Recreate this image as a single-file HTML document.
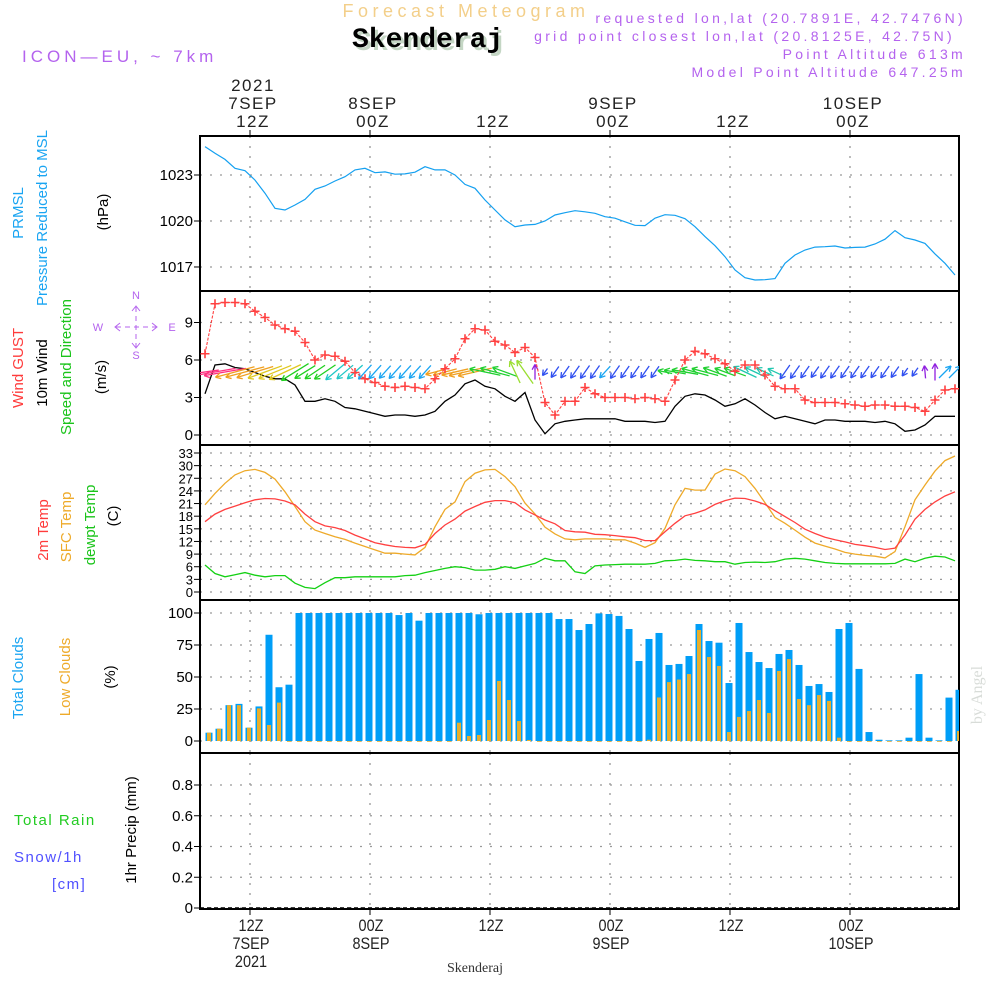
<!DOCTYPE html>
<html><head><meta charset="utf-8"><style>
html,body{margin:0;padding:0;background:#fff;}
svg{display:block;font-family:"Liberation Sans",sans-serif;}
</style></head><body>
<svg id="chart" width="1000" height="1000" viewBox="0 0 1000 1000" xmlns="http://www.w3.org/2000/svg">
<defs>
<clipPath id="c1"><rect x="200" y="136" width="759" height="155"/></clipPath>
<clipPath id="c2"><rect x="200" y="291" width="759" height="154"/></clipPath>
<clipPath id="c3"><rect x="200" y="445" width="759" height="155"/></clipPath>
<clipPath id="c4"><rect x="200" y="600" width="759" height="153"/></clipPath>
</defs>
<g>
<text x="466" y="17" text-anchor="middle" font-size="18" fill="#f3cf8a" letter-spacing="4.5">Forecast Meteogram</text>
<text x="355" y="50" font-family="Liberation Mono,monospace" font-weight="bold" font-size="28" fill="#c4d6c4">Skenderaj</text>
<text x="352" y="47" font-family="Liberation Mono,monospace" font-weight="bold" font-size="28" fill="#000">Skenderaj</text>
<text x="22" y="62" font-size="17" fill="#b463ee" letter-spacing="4">ICON—EU, ~ 7km</text>
<g font-size="14" fill="#b463ee" text-anchor="end" letter-spacing="3.3">
<text x="966" y="23">requested lon,lat (20.7891E, 42.7476N)</text>
<text x="955" y="41">grid point closest lon,lat (20.8125E, 42.75N)</text>
<text x="966" y="59">Point Altitude 613m</text>
<text x="966" y="77">Model Point Altitude 647.25m</text>
</g>
</g>
<g id="axes"></g>
<g id="marks"></g>
<g font-size="15">
<text transform="translate(23,213) rotate(-90)" text-anchor="middle" fill="#1aa5f2">PRMSL</text>
<text transform="translate(47,218) rotate(-90)" text-anchor="middle" fill="#1aa5f2">Pressure Reduced to MSL</text>
<text transform="translate(108,212) rotate(-90)" text-anchor="middle" fill="#000">(hPa)</text>
<text transform="translate(23,368) rotate(-90)" text-anchor="middle" fill="#ff3b3b">Wind GUST</text>
<text transform="translate(47,373) rotate(-90)" text-anchor="middle" fill="#000">10m Wind</text>
<text transform="translate(71,367) rotate(-90)" text-anchor="middle" fill="#1bc41b">Speed and Direction</text>
<text transform="translate(106,377) rotate(-90)" text-anchor="middle" fill="#000">(m/s)</text>
<g fill="none" stroke="#b463ee" stroke-width="1">
<line x1="116" y1="327" x2="156" y2="327" stroke-dasharray="5 4"/>
<line x1="136" y1="307" x2="136" y2="347" stroke-dasharray="5 4"/>
<path d="M120,323 l-5,4 l5,4 M152,323 l5,4 l-5,4 M132,311 l4,-5 l4,5 M132,343 l4,5 l4,-5"/>
<g fill="#b463ee" stroke="none" font-size="11">
<text x="136" y="299" text-anchor="middle">N</text><text x="98" y="331" text-anchor="middle">W</text><text x="172" y="331" text-anchor="middle">E</text><text x="136" y="359" text-anchor="middle">S</text>
</g>
</g>
<text transform="translate(48,530) rotate(-90)" text-anchor="middle" fill="#ff3b3b">2m Temp</text>
<text transform="translate(71,527) rotate(-90)" text-anchor="middle" fill="#eeaa2a">SFC Temp</text>
<text transform="translate(95,525) rotate(-90)" text-anchor="middle" fill="#1bc41b">dewpt Temp</text>
<text transform="translate(118,516) rotate(-90)" text-anchor="middle" fill="#000">(C)</text>
<text transform="translate(23,678) rotate(-90)" text-anchor="middle" fill="#1aa5f2">Total Clouds</text>
<text transform="translate(70,677) rotate(-90)" text-anchor="middle" fill="#eeaa2a">Low Clouds</text>
<text transform="translate(115,677) rotate(-90)" text-anchor="middle" fill="#000">(%)</text>
<text x="14" y="825" fill="#22cc22" letter-spacing="1.5">Total  Rain</text>
<text x="14" y="862" fill="#5050ff" letter-spacing="1.5">Snow/1h</text>
<text x="52" y="889" fill="#5050ff" letter-spacing="1.5">[cm]</text>
<text transform="translate(136,830) rotate(-90)" text-anchor="middle" fill="#000">1hr Precip (mm)</text>
<text transform="translate(982,695) rotate(-90)" text-anchor="middle" fill="#d8dcd8" font-family="Liberation Serif,serif" font-size="16">by Angel</text>
<text x="475" y="972" text-anchor="middle" font-family="Liberation Serif,serif" font-size="14" fill="#333">Skenderaj</text>
</g>
</svg>
<script>
// ---- data (hourly, starting 07SEP 07:30Z) ----
const pressure = [1024.85,1024.42,1024.02,1023.44,1023.28,1022.67,1021.81,1020.83,1020.72,1021.04,1021.41,1022.07,1022.28,1022.61,1022.89,1023.33,1023.44,1023.15,1023.2,1023.05,1023.07,1023.18,1023.54,1023.33,1023.33,1023.0,1022.39,1022.13,1021.37,1020.72,1020.07,1019.63,1019.74,1019.78,1020.0,1020.39,1020.54,1020.67,1020.6,1020.5,1020.28,1020.18,1019.95,1019.72,1019.7,1020.18,1020.41,1020.37,1020.15,1019.63,1018.98,1018.39,1017.67,1016.8,1016.3,1016.15,1016.17,1016.24,1017.24,1017.78,1018.11,1018.3,1018.32,1018.37,1018.24,1018.28,1018.3,1018.5,1018.81,1019.37,1018.91,1018.76,1018.54,1017.85,1017.24,1016.48];
const gust = [6.5,10.5,10.6,10.6,10.5,9.9,9.4,8.8,8.5,8.3,7.4,6.0,6.4,6.3,5.9,5.0,4.5,4.2,3.9,3.8,3.9,3.8,3.7,4.5,5.3,6.1,7.7,8.5,8.4,7.5,7.2,6.6,7.0,6.2,2.6,1.6,2.7,2.7,3.8,3.3,3.0,3.0,3.0,2.9,3.0,2.9,2.7,4.4,6.0,6.7,6.5,6.1,5.7,5.1,5.6,5.6,4.8,3.9,3.7,3.7,2.8,2.6,2.6,2.6,2.5,2.4,2.3,2.4,2.4,2.3,2.3,2.2,1.9,2.8,3.6,3.7];
const wind = [3.3,5.6,5.7,5.4,5.3,5.0,4.7,4.5,4.5,4.0,2.7,2.7,2.9,2.7,2.2,2.1,1.9,1.7,1.5,1.6,1.6,1.5,1.6,1.9,2.7,3.2,4.1,4.4,3.9,3.7,3.1,2.7,3.4,1.2,0.1,0.9,1.1,1.2,1.3,1.3,1.3,1.3,1.1,1.1,1.1,1.0,1.1,2.3,3.1,3.3,3.2,2.8,2.3,2.5,2.9,2.4,1.8,1.3,1.5,1.3,1.1,0.9,1.2,1.2,1.1,1.1,1.1,1.0,1.1,0.9,0.3,0.4,0.8,1.5,1.5,1.5];
const windDir = [188,190,190,195,195,197,200,202,205,212,212,214,214,220,220,222,228,228,228,228,228,228,228,195,195,193,193,193,168,165,160,115,125,90,235,235,235,235,235,235,228,235,235,235,235,235,168,170,170,165,165,160,160,160,155,155,155,155,235,235,235,235,235,235,235,235,235,235,235,235,235,235,95,90,45,45];
const temp2m = [16.7,18.5,19.6,20.4,21.2,21.9,22.2,22.1,21.6,20.7,18.5,16.7,15.7,15.3,14.6,13.5,12.6,11.7,11.2,10.8,10.6,10.5,11.3,13.9,15.9,17.3,19.2,20.3,21.3,21.7,21.7,21.2,19.5,18.3,17.1,16.2,14.6,14.3,14.2,13.7,13.6,13.4,13.1,12.9,12.2,12.2,14.3,16.3,18.1,18.7,19.5,20.8,21.7,22.3,22.2,21.6,20.8,19.3,17.9,16.5,14.9,13.9,13.0,12.4,11.9,11.3,11.0,10.6,10.1,10.4,13.5,17.3,19.6,21.4,22.8,23.8];
const sfcTemp = [20.7,23.4,25.8,27.8,28.8,29.1,28.4,26.8,23.8,20.3,16.7,14.7,13.9,13.1,12.5,11.6,10.8,10.0,9.2,9.2,9.0,8.8,10.6,15.5,19.6,21.4,26.2,28.2,29.0,29.1,27.4,25.0,21.1,18.5,15.4,13.8,12.6,12.4,12.6,12.6,12.6,12.4,12.4,11.6,10.6,11.7,15.1,20.7,24.6,24.2,24.2,28.0,29.2,28.8,27.4,24.6,21.2,17.7,16.3,14.7,13.0,11.6,10.9,10.2,9.4,9.0,8.7,8.5,8.1,9.6,15.5,21.9,25.4,28.7,31.2,32.3];
const dewpt = [6.4,4.4,3.6,4.1,4.6,4.0,3.6,3.9,3.9,2.1,1.1,0.8,2.2,3.4,3.4,3.6,3.6,3.6,3.6,3.6,3.9,4.0,4.6,5.1,5.6,6.0,5.8,5.2,5.2,5.4,6.0,5.6,6.2,6.8,8.0,7.4,7.4,4.8,4.4,6.2,6.4,6.5,6.6,6.6,6.6,6.8,7.4,7.5,7.8,7.5,7.4,7.2,7.2,6.6,7.0,7.1,7.0,7.2,7.8,8.0,7.8,7.4,7.0,6.8,6.7,6.7,6.7,6.7,6.7,6.8,7.8,7.2,8.0,8.5,8.3,7.4];
const totalClouds = [6.5,9.6,28,29,10.4,27,83,42,44,100,100,100,100,100,100,100,100,100,100,98.4,100,94,100,100,100,100,100,99,100,100,100,100,100,100,100,95.3,95.3,86.7,91.4,99.7,99.2,97.7,87.5,62.5,79.7,84.4,59.4,60.2,66.4,91.4,78.1,76.8,45.3,92.2,69.5,61.7,57,68,71.1,59.4,43,44.5,38.3,87.5,92.2,56.3,7,1,0.5,0.5,2.6,52.3,2.6,0.5,33.9,40];
const lowClouds = [6.5,9.6,28,28,10.4,25.5,12.5,30,0,0,0,0,0,0,0,0,0,0,0,0,0,0,0,0,0,14.3,3.9,4.7,16.4,46.9,32,15.6,0.8,0,0,0,0,0,0,0,0,0,0,0,1,34,46,48,52.3,86.7,65.6,58.6,7,18.8,23.4,32,21.9,54.7,64,32.8,28,35.9,31.3,2.6,0,0,0,0,0,0,0,0,0,0,0,7.8];
const precip = new Array(76).fill(0);
const pressureTicks = [1017,1020,1023];
const windTicks = [0,3,6,9];
const tempTicks = [0,3,6,9,12,15,18,21,24,27,30,33];
const cloudTicks = [0,25,50,75,100];
const precipTicks = [0,0.2,0.4,0.6,0.8];
const timeTicks = [0,12,24,36,48,60]; // hours since 07SEP 12Z
const topTickLabels = [["2021","7SEP","12Z"],["","8SEP","00Z"],["","","12Z"],["","9SEP","00Z"],["","","12Z"],["","10SEP","00Z"]];
const bottomTickLabels = [["12Z","7SEP","2021"],["00Z","8SEP",""],["12Z","",""],["00Z","9SEP",""],["12Z","",""],["00Z","10SEP",""]];
const startHour = -4.5;

// ---- scales ----
const X0=200, X1=959;
const xT = h => 250 + 10*h;
const xi = i => xT(startHour + i);
const yP = p => 175 - (p-1023)*15.33;
const yW = v => 435 - 12.5*v;
const yT = t => 592 - 4.212*t;
const yC = c => 741 - 1.28*c;
const yR = r => 908 - 153.75*r;

const NS='http://www.w3.org/2000/svg';
const axes=document.getElementById('axes'), marks=document.getElementById('marks');
function mk(tag, attrs, parent){const e=document.createElementNS(NS,tag);for(const k in attrs)e.setAttribute(k,attrs[k]);parent.appendChild(e);return e;}

const panels=[{t:136,b:291,ticks:pressureTicks,y:yP,fmt:v=>String(v),name:'pressure',fs:15},
 {t:291,b:445,ticks:windTicks,y:yW,fmt:v=>String(v),name:'wind',fs:15},
 {t:445,b:600,ticks:tempTicks,y:yT,fmt:v=>String(v),name:'temperature',fs:13},
 {t:600,b:753,ticks:cloudTicks,y:yC,fmt:v=>String(v),name:'clouds',fs:15},
 {t:753,b:909,ticks:precipTicks,y:yR,fmt:v=>v===0?'0':v.toFixed(1),name:'precip',fs:15}];

panels.forEach(p=>{
  p.ticks.forEach(v=>{
    const y=p.y(v);
    const g=mk('line',{x1:X0,x2:X1,y1:y,y2:y,stroke:'#999','stroke-width':1.3,'stroke-dasharray':'2 8'},axes);
    
    
    const tk=mk('line',{x1:X0-6,x2:X0,y1:y,y2:y,stroke:'#000','stroke-width':1},axes);
    
    
    const tl=mk('text',{x:X0-7,y:y+5,'text-anchor':'end','font-size':p.fs,fill:'#000'},axes);
    tl.textContent=p.fmt(v);
    
    
  });
  timeTicks.forEach(h=>{
    const vl=mk('line',{x1:xT(h),x2:xT(h),y1:p.t,y2:p.b,stroke:'#999','stroke-width':1.3,'stroke-dasharray':'2 8'},axes);
    
    
  });
  const fr=mk('rect',{x:X0,y:p.t,width:X1-X0,height:p.b-p.t,fill:'none',stroke:'#000','stroke-width':2},axes);
  
  
});
const zl=mk('line',{x1:X0,x2:X1,y1:yR(0),y2:yR(0),stroke:'#000','stroke-width':1.5,'stroke-dasharray':'4 3'},axes);



timeTicks.forEach((h,k)=>{
  const x=xT(h)+3;
  const t1=mk('line',{x1:xT(h),x2:xT(h),y1:130,y2:136,stroke:'#000'},axes);
  
  
  topTickLabels[k].forEach((s,j)=>{ if(!s) return;
    const t=mk('text',{x:x,y:[91,109,127][j],'text-anchor':'middle','font-size':17,fill:'#222','letter-spacing':1.5},axes);
    t.textContent=s;
    
    
  });
  const t2=mk('line',{x1:xT(h),x2:xT(h),y1:909,y2:915,stroke:'#000'},axes);
  
  
  bottomTickLabels[k].forEach((s,j)=>{ if(!s) return;
    const t=mk('text',{x:xT(h)+1,y:[931,949,967][j],'text-anchor':'middle','font-size':17,fill:'#222',transform:`translate(${xT(h)+1},0) scale(0.85,1) translate(${-(xT(h)+1)},0)`},axes);
    t.textContent=s;
    
    
  });
});

function poly(arr, yf, color, clip, name, w){
  const pts=arr.map((v,i)=>xi(i).toFixed(1)+','+yf(v).toFixed(1)).join(' ');
  const e=mk('polyline',{points:pts,fill:'none',stroke:color,'stroke-width':w||1.3,'clip-path':'url(#'+clip+')'},marks);
  
  
  return e;
}
poly(pressure,yP,'#14a0f0','c1','pressure-line',1.2);

// clouds bars
totalClouds.forEach((v,i)=>{
  const cx=xi(i)+4;
  const b=mk('rect',{x:cx-3.5,y:yC(v),width:7,height:yC(0)-yC(v),fill:'#009ef7','clip-path':'url(#c4)'},marks);
  
  
});
lowClouds.forEach((v,i)=>{
  const cx=xi(i)+4;
  const b=mk('rect',{x:cx-2,y:yC(v),width:4,height:Math.max(0.8,yC(0)-yC(v)),fill:'#e8ae2c','clip-path':'url(#c4)'},marks);
  
  
});

// temps
poly(sfcTemp,yT,'#eeaa2a','c3','sfc-temp-line');
poly(temp2m,yT,'#ff4040','c3','temp-2m-line');
poly(dewpt,yT,'#14d014','c3','dewpt-line');

// wind
poly(wind,yW,'#000','c2','wind-speed-line',1.3);
function dirColor(d){
  if(d<60) return '#1aa5f2';
  if(d<100) return '#9020e0';
  if(d<130) return '#9ade30';
  if(d<158) return '#20c8b0';
  if(d<172) return '#20d030';
  if(d<186) return '#a0e040';
  if(d<192) return '#ff3080';
  if(d<198) return '#f0a020';
  if(d<206) return '#e0c820';
  if(d<216) return '#20d020';
  if(d<224) return '#20c8c8';
  if(d<231) return '#1aa5f2';
  return '#3050f0';
}
windDir.forEach((d,i)=>{
  const L=8+6*wind[i];
  const a=d*Math.PI/180, dx=Math.cos(a), dy=-Math.sin(a);
  const cx=xi(i), cy=372;
  const x1=cx-dx*L/2, y1=cy-dy*L/2, x2=cx+dx*L/2, y2=cy+dy*L/2;
  const c=dirColor(d);
  const g=mk('g',{stroke:c,'stroke-width':1.3,fill:'none','clip-path':'url(#c2)'},marks);
  
  
  mk('line',{x1:x1,y1:y1,x2:x2,y2:y2},g);
  const h=6, sp=0.5;
  [a+Math.PI-sp,a+Math.PI+sp].forEach(b=>{
    mk('line',{x1:x2,y1:y2,x2:x2+Math.cos(b)*h,y2:y2-Math.sin(b)*h},g);
  });
});
poly(gust,yW,'#ff4040','c2','wind-gust-line',1.1).setAttribute('stroke-dasharray','3 1.5');
gust.forEach((v,i)=>{
  const x=xi(i), y=yW(v);
  const g=mk('path',{d:`M${x-4.5},${y}h9M${x},${y-4.5}v9`,stroke:'#ff4040','stroke-width':1.6,'clip-path':'url(#c2)'},marks);
  
  
});
precip.forEach((v,i)=>{
  if(v<=0) return;
  const b=mk('rect',{x:xi(i),y:yR(v),width:7,height:yR(0)-yR(v),fill:'#22cc22'},marks);
  
  
});
</script>
</body></html>
